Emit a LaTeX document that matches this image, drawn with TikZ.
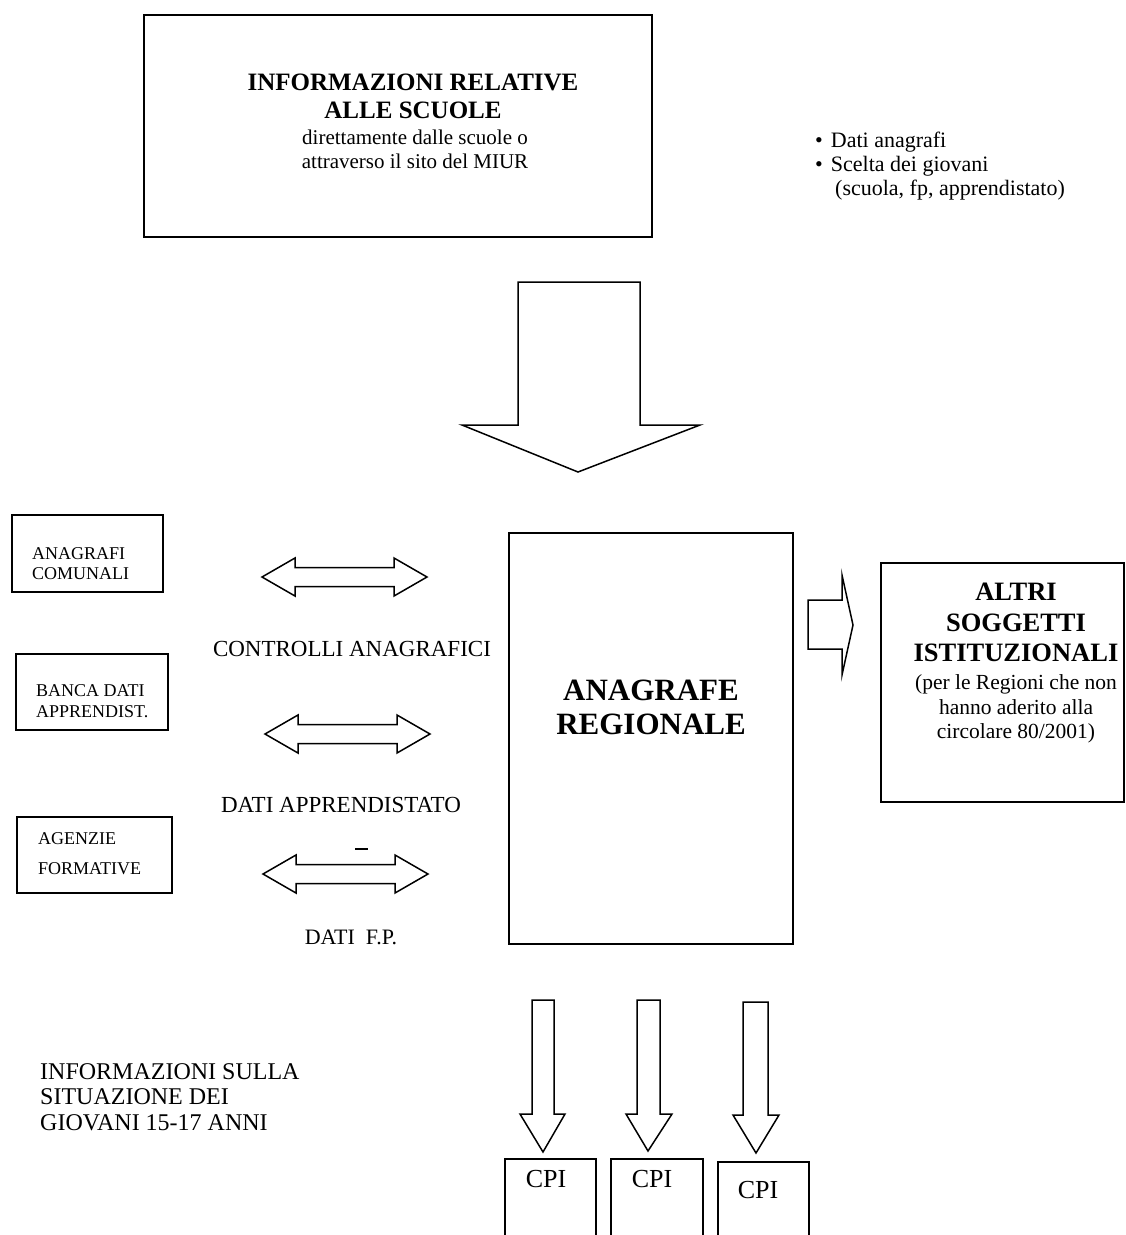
\documentclass[tikz,border=0pt]{standalone}
\usepackage{fontspec}
\setmainfont{Liberation Serif}
\newcommand\fsz[1]{\fontsize{#1}{#1}\selectfont}
\begin{document}
\begin{tikzpicture}[x=1pt,y=-1pt,
  box/.style={draw, line width=1.5pt, inner sep=0pt},
  blk/.style={draw, line width=1.5pt, line join=miter, fill=white},
  txt/.style={inner sep=0pt, anchor=base},
  txtl/.style={inner sep=0pt, anchor=base west}]
\useasboundingbox (0,0) rectangle (1126,1235);
\clip (0,0) rectangle (1126,1235);

% ---- source box: schools ----
\node[box, minimum width=508pt, minimum height=222pt] (scuole) at (398,126) {};
\node[txt, font=\fsz{25}\bfseries] (s1) at (413,90.3) {INFORMAZIONI RELATIVE};
\node[txt, font=\fsz{25}\bfseries] (s2) at (413,118) {ALLE SCUOLE};
\node[txt, font=\fsz{21}] (s3) at (415,144) {direttamente dalle scuole o};
\node[txt, font=\fsz{21}] (s4) at (415,168) {attraverso il sito del MIUR};

% ---- bullet list ----
\node[txtl, font=\fsz{22}] (b1) at (815,147) {\textbullet\hspace{8pt}Dati anagrafi};
\node[txtl, font=\fsz{22}] (b2) at (815,171) {\textbullet\hspace{8pt}Scelta dei giovani};
\node[txtl, font=\fsz{22}] (b3) at (835,195) {(scuola, fp, apprendistato)};

% ---- main down arrow ----
\draw[blk] (518,282) -- (640,282) -- (640,425) -- (700,425) -- (578,472)
  -- (462,425) -- (518,425) -- cycle;

% ---- central register ----
\node[box, minimum width=284pt, minimum height=411pt] (regionale) at (651,738.5) {};
\node[txt, font=\fsz{31}\bfseries] (r1) at (651,700) {ANAGRAFE};
\node[txt, font=\fsz{31}\bfseries] (r2) at (651,734) {REGIONALE};

% ---- left sources ----
\node[box, minimum width=151pt, minimum height=77pt] (anagrafi) at (87.5,553.5) {};
\node[txtl, font=\fsz{18}] (a1) at (32,559) {ANAGRAFI};
\node[txtl, font=\fsz{18}] (a2) at (32,579) {COMUNALI};

\node[box, minimum width=152pt, minimum height=76pt] (banca) at (92,692) {};
\node[txtl, font=\fsz{18}] (d1) at (36,696) {BANCA DATI};
\node[txtl, font=\fsz{18}] (d2) at (36,717) {APPRENDIST.};

\node[box, minimum width=155pt, minimum height=76pt] (agenzie) at (94.5,855) {};
\node[txtl, font=\fsz{18}] (g1) at (38,844) {AGENZIE};
\node[txtl, font=\fsz{18}] (g2) at (38,874) {FORMATIVE};

% ---- two-way exchange arrows ----
\draw[blk] (262,577) -- (295,558) -- (295,567.5) -- (394,567.5) -- (394,558) -- (427,577)
  -- (394,596) -- (394,586.5) -- (295,586.5) -- (295,596) -- cycle;
\draw[blk] (265,734) -- (298,715) -- (298,724.5) -- (397,724.5) -- (397,715) -- (430,734)
  -- (397,753) -- (397,743.5) -- (298,743.5) -- (298,753) -- cycle;
\draw[blk] (263,874) -- (296,855) -- (296,864.5) -- (395,864.5) -- (395,855) -- (428,874)
  -- (395,893) -- (395,883.5) -- (296,883.5) -- (296,893) -- cycle;
\draw[line width=1.5pt] (355,849) -- (368,849);

\node[txt, font=\fsz{23}] (l1) at (352,656.6) {CONTROLLI ANAGRAFICI};
\node[txt, font=\fsz{23}] (l2) at (341,812.6) {DATI APPRENDISTATO};
\node[txt, font=\fsz{22}] (l3) at (351,944.6) {DATI\ \ F.P.};

% ---- right side ----
\draw[blk] (808,600) -- (842,600) -- (842,575) -- (853,625) -- (842,675)
  -- (842,649) -- (808,649) -- cycle;
\node[box, minimum width=243pt, minimum height=239pt] (altri) at (1002.5,682.5) {};
\node[txt, font=\fsz{26.5}\bfseries] (t1) at (1016,600) {ALTRI};
\node[txt, font=\fsz{26.5}\bfseries] (t2) at (1016,631) {SOGGETTI};
\node[txt, font=\fsz{26.5}\bfseries] (t3) at (1016,661) {ISTITUZIONALI};
\node[txt, font=\fsz{21.5}] (t4) at (1016,689.5) {(per le Regioni che non};
\node[txt, font=\fsz{21.5}] (t5) at (1016,714.5) {hanno aderito alla};
\node[txt, font=\fsz{21.5}] (t6) at (1016,738.5) {circolare 80/2001)};

% ---- outputs to job centres ----
\draw[blk] (532,1000) -- (554,1000) -- (554,1114) -- (565,1114) -- (543,1152)
  -- (520,1114) -- (532,1114) -- cycle;
\draw[blk] (637,1000) -- (660,1000) -- (660,1114) -- (672,1114) -- (648,1151)
  -- (626,1114) -- (637,1114) -- cycle;
\draw[blk] (743,1002) -- (768,1002) -- (768,1115) -- (779,1115) -- (756,1153)
  -- (733,1115) -- (743,1115) -- cycle;

\node[box, minimum width=91pt, minimum height=86pt] (cpi1) at (550.5,1202) {};
\node[box, minimum width=92pt, minimum height=86pt] (cpi2) at (657,1202) {};
\node[box, minimum width=91pt, minimum height=86pt] (cpi3) at (763.5,1205) {};
\node[txt, font=\fsz{26}] (c1) at (546,1187.6) {CPI};
\node[txt, font=\fsz{26}] (c2) at (652,1187.6) {CPI};
\node[txt, font=\fsz{26}] (c3) at (758,1198.6) {CPI};

% ---- note on the left ----
\node[txtl, font=\fsz{24}] (n1) at (40,1079) {INFORMAZIONI SULLA};
\node[txtl, font=\fsz{24}] (n2) at (40,1104.5) {SITUAZIONE DEI};
\node[txtl, font=\fsz{24}] (n3) at (40,1130) {GIOVANI 15-17 ANNI};
\end{tikzpicture}
\end{document}
